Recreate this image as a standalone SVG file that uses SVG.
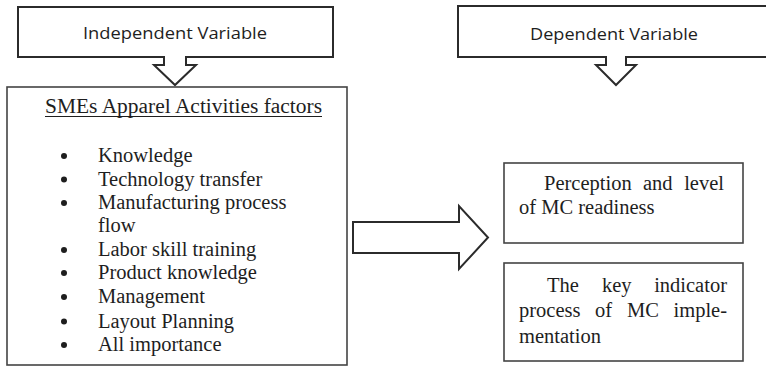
<svg xmlns="http://www.w3.org/2000/svg" width="766" height="366" viewBox="0 0 766 366">
  <style>
    .shape { fill: #ffffff; stroke: #2b2b2b; stroke-width: 2; stroke-linejoin: miter; }
    .box { fill: #ffffff; stroke: #444444; stroke-width: 1.6; }
    .head { font-family: "Open Sans", "Liberation Sans", sans-serif; font-size: 17px; fill: #1e1e1e; }
    .serif { font-family: "Liberation Serif", "Times New Roman", serif; font-size: 20.5px; fill: #1e1e1e; }
  </style>
  <rect width="766" height="366" fill="#ffffff"/>

  <!-- Independent variable callout -->
  <g id="independent-variable">
    <path class="shape" d="M18,7 H333 V57 H186 V65 H196 L175,85 L154,65 H164 V57 H18 Z"/>
    <text class="head" x="175" y="39" text-anchor="middle" textLength="184" lengthAdjust="spacingAndGlyphs">Independent Variable</text>
  </g>

  <!-- Dependent variable callout -->
  <g id="dependent-variable">
    <path class="shape" d="M458,6 H770 V57 H626 V65 H636 L616,85 L596,65 H606 V57 H458 Z"/>
    <text class="head" x="614" y="40" text-anchor="middle" textLength="168" lengthAdjust="spacingAndGlyphs">Dependent Variable</text>
  </g>

  <!-- Factors box -->
  <g id="sme-factors">
    <rect class="box" x="7" y="87" width="340" height="278"/>
    <text class="serif" x="45" y="113" textLength="277" lengthAdjust="spacingAndGlyphs">SMEs Apparel Activities factors</text>
    <line x1="45" y1="116.5" x2="322" y2="116.5" stroke="#1e1e1e" stroke-width="1.2"/>
    <g fill="#1e1e1e">
      <circle cx="64" cy="156" r="3"/>
      <circle cx="64" cy="179.5" r="3"/>
      <circle cx="64" cy="203" r="3"/>
      <circle cx="64" cy="250" r="3"/>
      <circle cx="64" cy="273" r="3"/>
      <circle cx="64" cy="297" r="3"/>
      <circle cx="64" cy="321.5" r="3"/>
      <circle cx="64" cy="345" r="3"/>
    </g>
    <text class="serif" x="98" y="162">Knowledge</text>
    <text class="serif" x="98" y="185.5">Technology transfer</text>
    <text class="serif" x="98" y="209">Manufacturing process</text>
    <text class="serif" x="98" y="232">flow</text>
    <text class="serif" x="98" y="256">Labor skill training</text>
    <text class="serif" x="98" y="279">Product knowledge</text>
    <text class="serif" x="98" y="303">Management</text>
    <text class="serif" x="98" y="327.5">Layout Planning</text>
    <text class="serif" x="98" y="351">All importance</text>
  </g>

  <!-- Connector: block arrow from factors to outcomes -->
  <g id="connectors">
    <path class="shape" d="M353,222 H459 V206 L488,237.5 L459,269 V253 H353 Z"/>
  </g>

  <!-- Perception box (justified lines, words placed individually) -->
  <g id="perception">
    <rect class="box" x="504" y="163" width="239" height="80"/>
    <text class="serif" x="544" y="190">Perception</text>
    <text class="serif" x="643" y="190">and</text>
    <text class="serif" x="724" y="190" text-anchor="end">level</text>
    <text class="serif" x="519" y="214">of MC readiness</text>
  </g>

  <!-- Key indicator box (justified lines, words placed individually) -->
  <g id="key-indicator">
    <rect class="box" x="504" y="263" width="239" height="98"/>
    <text class="serif" x="547" y="292">The</text>
    <text class="serif" x="602" y="292">key</text>
    <text class="serif" x="727" y="292" text-anchor="end">indicator</text>
    <text class="serif" x="519" y="317">process</text>
    <text class="serif" x="595" y="317">of</text>
    <text class="serif" x="627" y="317">MC</text>
    <text class="serif" x="727" y="317" text-anchor="end">imple-</text>
    <text class="serif" x="519" y="343">mentation</text>
  </g>
</svg>
